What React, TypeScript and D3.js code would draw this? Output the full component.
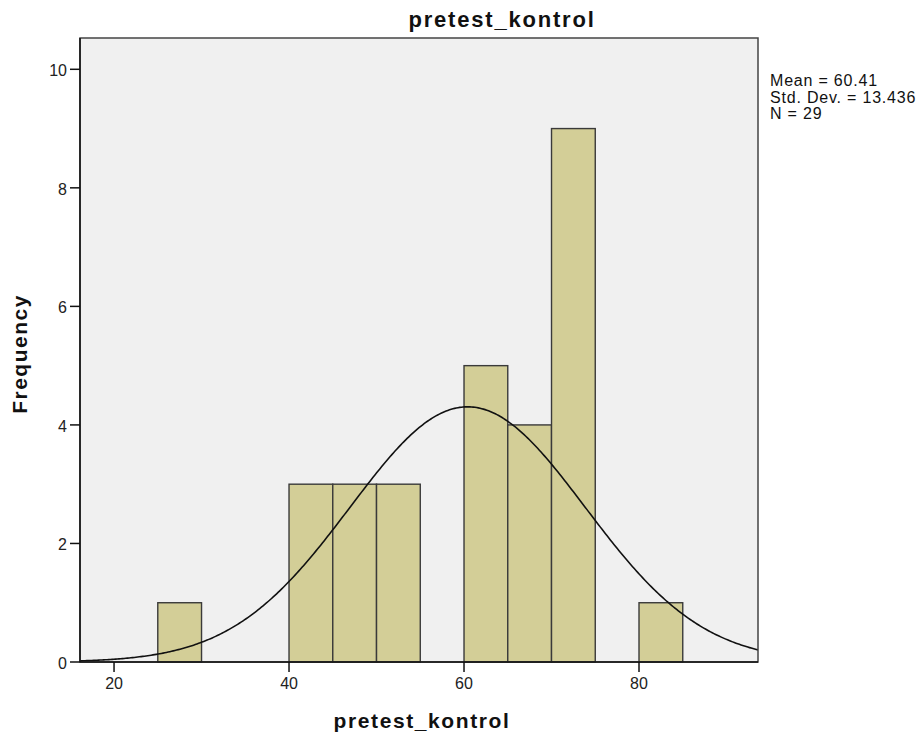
import React from "react";
import * as d3 from "d3";

const binStarts = [25, 40, 45, 50, 60, 65, 70, 80];
const binCounts = [1, 3, 3, 3, 5, 4, 9, 1];
const binWidth = 5;
const xTicks = [20, 40, 60, 80];
const yTicks = [0, 2, 4, 6, 8, 10];
const mean = 60.41;
const sd = 13.436;
const n = 29;
const statsLines = ["Mean = 60.41", "Std. Dev. = 13.436", "N = 29"];

const W = 922, H = 736;
const L = 80, R = 758, T = 38, B = 662;

export default function App() {
  const x = d3.scaleLinear().domain([16.11, 93.6]).range([L, R]);
  const y = d3.scaleLinear().domain([0, 10]).range([B, 69.3]);
  const pdf = (v: number) =>
    (n * binWidth) / (sd * Math.sqrt(2 * Math.PI)) * Math.exp(-0.5 * ((v - mean) / sd) ** 2);
  const pts = d3.range(0, 401).map((i) => {
    const v = 16.11 + (93.6 - 16.11) * (i / 400);
    return [v, pdf(v)] as [number, number];
  });
  const line = d3.line<[number, number]>().x((d) => x(d[0])).y((d) => y(d[1]));
  const font = "'Liberation Sans', Arial, sans-serif";
  return (
    <svg width={W} height={H} style={{ position: "absolute", left: 0, top: 0 }} fontFamily={font}>
      <rect x={0} y={0} width={W} height={H} fill="#fff" />
      <rect x={L} y={T} width={R - L} height={B - T} fill="#F0F0F0" />
      <clipPath id="plotclip">
        <rect x={L} y={T} width={R - L} height={B - T} />
      </clipPath>
      {binStarts.map((s, i) => (
        <rect
          key={i}
          x={x(s)}
          y={y(binCounts[i])}
          width={x(s + binWidth) - x(s)}
          height={y(0) - y(binCounts[i])}
          fill="#D3CE97"
          stroke="#3a3a3a"
          strokeWidth={1.4}
        />
      ))}
      <path d={line(pts) || ""} fill="none" stroke="#111" strokeWidth={1.6} clipPath="url(#plotclip)" />
      <rect x={L} y={T} width={R - L} height={B - T} fill="none" stroke="#444" strokeWidth={1.5} />
      <line x1={L} x2={L} y1={T} y2={B} stroke="#111" strokeWidth={1.5} />
      {yTicks.map((t) => (
        <g key={t}>
          <line x1={L - 10} x2={L} y1={y(t)} y2={y(t)} stroke="#111" strokeWidth={1.5} />
          <text x={L - 13} y={y(t) + 7} textAnchor="end" fontSize={16} fill="#222">
            {t}
          </text>
        </g>
      ))}
      <line x1={L} x2={R} y1={B} y2={B} stroke="#111" strokeWidth={1.5} />
      {xTicks.map((t) => (
        <g key={t}>
          <line x1={x(t)} x2={x(t)} y1={B} y2={B + 10} stroke="#111" strokeWidth={1.5} />
          <text x={x(t)} y={B + 27} textAnchor="middle" fontSize={16} fill="#222">
            {t}
          </text>
        </g>
      ))}
      <text x={502} y={27} textAnchor="middle" fontSize={22} fontWeight="bold" letterSpacing={1.8} fill="#111">
        pretest_kontrol
      </text>
      <text x={422} y={728} textAnchor="middle" fontSize={21} fontWeight="bold" letterSpacing={1.6} fill="#111">
        pretest_kontrol
      </text>
      <text
        transform={`translate(27,354) rotate(-90)`}
        textAnchor="middle"
        fontSize={21}
        fontWeight="bold"
        letterSpacing={1.5}
        fill="#111"
      >
        Frequency
      </text>
      {statsLines.map((s, i) => (
        <text key={i} x={770} y={86 + i * 16.5} fontSize={16} letterSpacing={0.8} fill="#111">
          {s}
        </text>
      ))}
    </svg>
  );
}
